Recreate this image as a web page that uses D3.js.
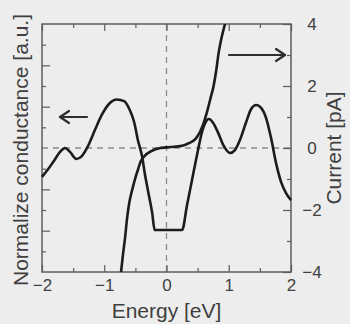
<!DOCTYPE html>
<html>
<head>
<meta charset="utf-8">
<script src="https://cdn.jsdelivr.net/npm/d3@7"></script>
<style>
  html, body { margin: 0; padding: 0; background: #ededed; }
  svg { display: block; }
  text { font-family: "Liberation Sans", Arial, Helvetica, sans-serif; fill: #404040; }
</style>
</head>
<body>
<svg id="chart" width="350" height="324"></svg>
<script>
// Normalized conductance (left axis, arbitrary units) versus energy
const condEnergy = [-2.00, -1.90, -1.81, -1.71, -1.63, -1.55, -1.45, -1.36, -1.26, -1.15, -1.04, -0.91, -0.80, -0.68, -0.59, -0.52, -0.46, -0.39, -0.35, -0.30, -0.23, -0.19,
                    0.25, 0.33, 0.41, 0.49, 0.57, 0.64, 0.68, 0.75, 0.83, 0.92, 1.02, 1.10, 1.18, 1.28, 1.36, 1.44, 1.52, 1.60, 1.68, 1.76, 1.84, 1.92, 2.00];
const condValue  = [-1.40, -1.02, -0.63, -0.19, 0.00, -0.19, -0.53, -0.39, 0.10, 0.87, 1.60, 2.18, 2.35, 2.27, 1.84, 1.26, 0.39, -0.44, -1.21, -2.03, -3.14, -3.97,
                    -3.97, -2.76, -1.55, -0.34, 0.77, 1.31, 1.40, 1.21, 0.73, 0.10, -0.24, -0.10, 0.39, 1.26, 1.89, 2.08, 1.94, 1.45, 0.48, -0.73, -1.64, -2.18, -2.52];

// Tunnelling current (right axis, pA) versus energy
const currEnergy = [-0.73, -0.70, -0.67, -0.62, -0.59, -0.54, -0.46, -0.38, -0.27, -0.10, 0.06, 0.22, 0.33, 0.43, 0.51, 0.59, 0.65, 0.70, 0.75, 0.80, 0.84, 0.89, 0.94];
const currValue  = [-4.00, -3.45, -2.97, -2.06, -1.68, -1.26, -0.71, -0.32, -0.13, 0.00, 0.03, 0.06, 0.13, 0.23, 0.42, 0.77, 1.16, 1.55, 1.94, 2.52, 3.10, 3.61, 4.00];

// Axis ticks
const xMajorTicks = [-2, -1, 0, 1, 2];
const xMinorTicks = [-1.5, -0.5, 0.5, 1.5];
const rightMajorTicks = [-4, -2, 0, 2, 4];
const rightMinorTicks = [-3, -1, 1, 3];
const leftMajorTicks = [-4, -2, 2, 4];
const leftMinorTicks = [-5, -3, -1, 1, 3, 5];

const xTitle = "Energy [eV]";
const leftTitle = "Normalize conductance [a.u.]";
const rightTitle = "Current [pA]";

const svg = d3.select("#chart");
const L = 42, R = 291, T = 24, B = 272;

const x  = d3.scaleLinear().domain([-2, 2]).range([L, R]);
const yR = d3.scaleLinear().domain([-4, 4]).range([B, T]);
const yL = d3.scaleLinear().domain([-6, 6]).range([B, T]);

const axisColor = "#5c5c5c";

// zero reference lines
svg.append("line")
  .attr("x1", x(0)).attr("x2", x(0)).attr("y1", T).attr("y2", B)
  .attr("stroke", "#8c8c8c").attr("stroke-width", 1.3).attr("stroke-dasharray", "6,5");
svg.append("line")
  .attr("x1", L).attr("x2", R).attr("y1", yR(0)).attr("y2", yR(0))
  .attr("stroke", "#8c8c8c").attr("stroke-width", 1.3).attr("stroke-dasharray", "6,5");

function styleAxis(g) {
  g.select(".domain").remove();
  g.selectAll(".tick line").attr("stroke", axisColor).attr("stroke-width", 1.2);
  g.selectAll(".tick text").style("font-size", "17px").attr("fill", "#404040");
}

// bottom axis with labels
svg.append("g").attr("transform", `translate(0,${B})`)
  .call(d3.axisBottom(x).tickValues(xMajorTicks).tickSize(-7).tickPadding(7).tickFormat(d3.format("d")))
  .call(styleAxis);
svg.append("g").attr("transform", `translate(0,${B})`)
  .call(d3.axisBottom(x).tickValues(xMinorTicks).tickSize(-4).tickFormat(""))
  .call(styleAxis);
// top axis
svg.append("g").attr("transform", `translate(0,${T})`)
  .call(d3.axisTop(x).tickValues(xMajorTicks).tickSize(-7).tickFormat(""))
  .call(styleAxis);
svg.append("g").attr("transform", `translate(0,${T})`)
  .call(d3.axisTop(x).tickValues(xMinorTicks).tickSize(-4).tickFormat(""))
  .call(styleAxis);
// left axis (unlabelled)
svg.append("g").attr("transform", `translate(${L},0)`)
  .call(d3.axisLeft(yL).tickValues(leftMajorTicks).tickSize(-8).tickFormat(""))
  .call(styleAxis);
svg.append("g").attr("transform", `translate(${L},0)`)
  .call(d3.axisLeft(yL).tickValues(leftMinorTicks).tickSize(-4).tickFormat(""))
  .call(styleAxis);
// right axis with labels
const rAxis = svg.append("g").attr("transform", `translate(${R},0)`)
  .call(d3.axisRight(yR).tickValues(rightMajorTicks).tickSize(-8).tickFormat(d3.format("d")))
  .call(styleAxis);
rAxis.selectAll(".tick text").attr("x", 21).attr("text-anchor", "middle");
svg.append("g").attr("transform", `translate(${R},0)`)
  .call(d3.axisRight(yR).tickValues(rightMinorTicks).tickSize(-4).tickFormat(""))
  .call(styleAxis);

// frame
svg.append("rect")
  .attr("x", L).attr("y", T).attr("width", R - L).attr("height", B - T)
  .attr("fill", "none").attr("stroke", axisColor).attr("stroke-width", 1.5);

// curves
const condData = condEnergy.map((e, i) => [e, condValue[i]]);
const currData = currEnergy.map((e, i) => [e, currValue[i]]);

svg.append("path")
  .datum(condData)
  .attr("d", d3.line().x(d => x(d[0])).y(d => yL(d[1])).curve(d3.curveMonotoneX))
  .attr("fill", "none").attr("stroke", "#1c1c1c").attr("stroke-width", 2.6).attr("stroke-linejoin", "round");

svg.append("path")
  .datum(currData)
  .attr("d", d3.line().x(d => x(d[0])).y(d => yR(d[1])).curve(d3.curveMonotoneY))
  .attr("fill", "none").attr("stroke", "#1c1c1c").attr("stroke-width", 2.6).attr("stroke-linejoin", "round");

// arrows indicating which axis each curve belongs to
function arrow(x1, x2, yv) {
  const dir = Math.sign(x2 - x1);
  const g = svg.append("g").attr("stroke", "#2e2e2e").attr("stroke-width", 2.2).attr("fill", "none")
    .attr("stroke-linecap", "round").attr("stroke-linejoin", "round");
  g.append("line").attr("x1", x1).attr("x2", x2).attr("y1", yv).attr("y2", yv);
  g.append("path").attr("d", `M${x2 - dir * 9},${yv - 6} L${x2},${yv} L${x2 - dir * 9},${yv + 6}`);
}
arrow(87, 60, yL(1.5));
arrow(229, 285, yR(3));

// axis titles
svg.append("text")
  .attr("x", (L + R) / 2).attr("y", 318)
  .attr("text-anchor", "middle").style("font-size", "21px")
  .text(xTitle);
svg.append("text")
  .attr("transform", `translate(28,${(T + B) / 2 + 2}) rotate(-90)`)
  .attr("text-anchor", "middle").style("font-size", "21px")
  .text(leftTitle);
svg.append("text")
  .attr("transform", `translate(341,${(T + B) / 2}) rotate(-90)`)
  .attr("text-anchor", "middle").style("font-size", "21px")
  .text(rightTitle);
</script>
</body>
</html>
